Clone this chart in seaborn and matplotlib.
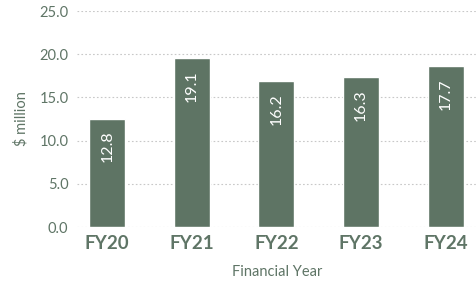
import matplotlib
matplotlib.use("Agg")
import matplotlib.pyplot as plt
import seaborn as sns
import pandas as pd

categories = ["FY20", "FY21", "FY22", "FY23", "FY24"]
bar_values = [12.5, 19.55, 16.9, 17.35, 18.6]
value_labels = ["12.8", "19.1", "16.2", "16.3", "17.7"]
y_ticks = [0, 5, 10, 15, 20, 25]

bar_color = "#5e7464"
text_color = "#5f7566"

sns.set_theme(style="white")
plt.rcParams["font.family"] = ["Lato", "DejaVu Sans"]

df = pd.DataFrame({"year": categories, "value": bar_values})

fig = plt.figure(figsize=(4.77, 2.85), dpi=100)
ax = fig.add_axes([0.161, 0.2035, 0.839, 0.7575])
sns.barplot(data=df, x="year", y="value", color=bar_color, width=0.425,
            saturation=1, ax=ax, zorder=3)

ax.set_ylim(0, 25)
ax.set_xlim(-0.36, 4.37)
ax.set_yticks(y_ticks)
ax.set_yticklabels([f"{v:.1f}" for v in y_ticks])
ax.yaxis.grid(True, linestyle=(0, (1.5, 2)), color="#c8c8c8", linewidth=0.8, zorder=0)
ax.xaxis.grid(False)
for s in ax.spines.values():
    s.set_visible(False)
ax.tick_params(axis="y", length=0, pad=6, labelsize=10.5, labelcolor=text_color)
ax.tick_params(axis="x", length=0, pad=6, labelsize=13.5, labelcolor=text_color)
for t in ax.get_xticklabels():
    t.set_fontweight("bold")

for i, (v, lab) in enumerate(zip(bar_values, value_labels)):
    ax.annotate(lab, (i, v), xytext=(0, -8.5), textcoords="offset points",
                rotation=90, ha="center", va="top", color="white", fontsize=11.5)

ax.set_xlabel("Financial Year", fontsize=10.5, color=text_color, labelpad=9)
ax.set_ylabel("$ million", fontsize=10.5, color=text_color, labelpad=8)

fig.savefig("out.png", dpi=100)
